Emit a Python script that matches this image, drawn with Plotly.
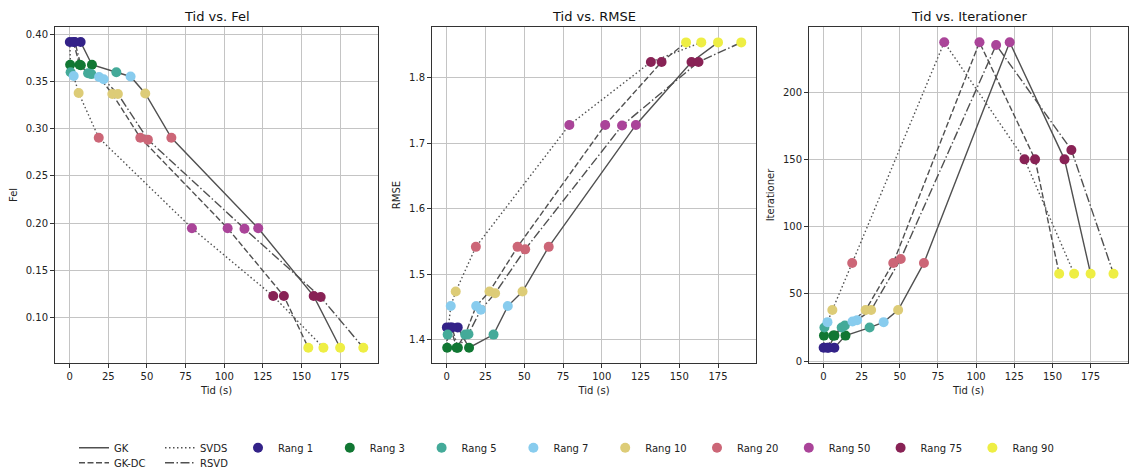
import plotly.graph_objects as go

# ---------------- data ----------------
ranks = [1, 3, 5, 7, 10, 20, 50, 75, 90]
rank_labels = ["Rang 1", "Rang 3", "Rang 5", "Rang 7", "Rang 10", "Rang 20", "Rang 50", "Rang 75", "Rang 90"]
rank_colors = ["#332288", "#117733", "#44AA99", "#88CCEE", "#DDCC77",
               "#CC6677", "#AA4499", "#882255", "#EEEE44"]

methods = ["GK", "GK-DC", "SVDS", "RSVD"]

time_gk = [7.1, 14.4, 30.2, 39.4, 48.9, 65.8, 122.0, 157.9, 175.0]
time_gkdc = [2.4, 6.4, 11.9, 19.0, 27.6, 45.7, 102.2, 138.6, 154.4]
time_svds = [0.1, 0.3, 0.6, 2.6, 5.8, 18.8, 79.1, 131.7, 164.2]
time_rsvd = [3.4, 7.2, 14.0, 22.0, 31.2, 50.6, 113.1, 162.4, 190.0]

fel_gk = [0.392, 0.368, 0.360, 0.3555, 0.3375, 0.2905, 0.1945, 0.1225, 0.0677]
fel_gkdc = [0.392, 0.368, 0.359, 0.355, 0.337, 0.2905, 0.1945, 0.1225, 0.0677]
fel_svds = [0.392, 0.368, 0.360, 0.356, 0.338, 0.2905, 0.1945, 0.1225, 0.0677]
fel_rsvd = [0.392, 0.3675, 0.358, 0.3525, 0.337, 0.2885, 0.194, 0.1215, 0.0677]

rmse_gk = [1.419, 1.388, 1.408, 1.4515, 1.4737, 1.5418, 1.7277, 1.8237, 1.8535]
rmse_gkdc = [1.419, 1.388, 1.408, 1.4515, 1.4737, 1.5418, 1.7277, 1.8237, 1.8535]
rmse_svds = [1.419, 1.388, 1.408, 1.4515, 1.4737, 1.5418, 1.7277, 1.8237, 1.8535]
rmse_rsvd = [1.419, 1.388, 1.4087, 1.446, 1.471, 1.538, 1.7267, 1.8237, 1.8535]

iter_gk = [10, 19, 25, 29, 38, 73, 237, 150, 65]
iter_gkdc = [10, 19, 25, 29.5, 38, 73, 237, 150, 65]
iter_svds = [10, 19, 25, 29, 38, 73, 237, 150, 65]
iter_rsvd = [10, 19, 26.5, 30.5, 38, 76, 235, 157, 65]

titles = ["Tid vs. Fel", "Tid vs. RMSE", "Tid vs. Iterationer"]
y_titles = ["Fel", "RMSE", "Iterationer"]
x_title = "Tid (s)"
x_ticks = [0, 25, 50, 75, 100, 125, 150, 175]
y_ticks_fel = [0.10, 0.15, 0.20, 0.25, 0.30, 0.35, 0.40]
y_ticks_rmse = [1.4, 1.5, 1.6, 1.7, 1.8]
y_ticks_iter = [0, 50, 100, 150, 200]

# ---------------- styling ----------------
W, H = 1129, 469
FONT = "DejaVu Sans"
LINE_COLOR = "#505050"
dash_styles = {"GK": "solid", "GK-DC": "6px,2.5px", "SVDS": "1.5px,2.5px", "RSVD": "9px,2.5px,1.5px,2.5px"}
legend_of = {"GK": "legend", "SVDS": "legend", "GK-DC": "legend2", "RSVD": "legend2"}

times = {"GK": time_gk, "GK-DC": time_gkdc, "SVDS": time_svds, "RSVD": time_rsvd}
metrics = [
    {"GK": fel_gk, "GK-DC": fel_gkdc, "SVDS": fel_svds, "RSVD": fel_rsvd},
    {"GK": rmse_gk, "GK-DC": rmse_gkdc, "SVDS": rmse_svds, "RSVD": rmse_rsvd},
    {"GK": iter_gk, "GK-DC": iter_gkdc, "SVDS": iter_svds, "RSVD": iter_rsvd},
]

x_domains = [(55, 378), (432, 756), (809, 1128)]
M_TOP, M_BOT = 26.7, H - 363.3
PLOT_H = H - M_TOP - M_BOT

fig = go.Figure()

for p in range(3):
    xa = "x" if p == 0 else f"x{p+1}"
    ya = "y" if p == 0 else f"y{p+1}"
    for m in ["GK", "GK-DC", "SVDS", "RSVD"]:
        fig.add_trace(go.Scatter(
            x=times[m], y=metrics[p][m], mode="lines", name=m,
            line=dict(color=LINE_COLOR, width=1.4, dash=dash_styles[m]),
            xaxis=xa, yaxis=ya, showlegend=(p == 0), legend=legend_of[m],
            hoverinfo="skip"))
    for i, lab in enumerate(rank_labels):
        xs = [times[m][i] for m in methods]
        ys = [metrics[p][m][i] for m in methods]
        fig.add_trace(go.Scatter(
            x=xs, y=ys, mode="markers", name=lab,
            marker=dict(color=rank_colors[i], size=10, line=dict(width=0)),
            xaxis=xa, yaxis=ya, showlegend=(p == 0), legend="legend3",
            legendgroup=lab))

axis_common = dict(
    showline=True, mirror=True, linecolor="#333333", linewidth=1,
    ticks="outside", ticklen=4, tickcolor="#333333", tickwidth=1,
    showgrid=True, gridcolor="#c4c4c4", gridwidth=1, zeroline=False,
    tickfont=dict(family=FONT, size=10, color="#222222"),
)

y_ranges = [(0.0515, 0.408), (1.3647, 1.877), (-1.35, 248.35)]
y_tickvals = [y_ticks_fel, y_ticks_rmse, y_ticks_iter]
y_fmt = [".2f", ".1f", "d"]

layout = dict(
    width=W, height=H, margin=dict(l=0, r=0, t=M_TOP, b=M_BOT, autoexpand=False),
    paper_bgcolor="white", plot_bgcolor="white",
    font=dict(family=FONT, size=10, color="#222222"),
    showlegend=True,
)
for p in range(3):
    sx = "" if p == 0 else str(p + 1)
    x0, x1 = x_domains[p]
    layout[f"xaxis{sx}"] = dict(
        axis_common, domain=[x0 / W, x1 / W], anchor=f"y{sx}",
        range=[-9.5, 199.5], tickvals=x_ticks, ticklabelstandoff=0,
        title=dict(text=x_title, font=dict(family=FONT, size=10, color="#222222"), standoff=5))
    layout[f"yaxis{sx}"] = dict(
        axis_common, domain=[0, 1], anchor=f"x{sx}",
        range=list(y_ranges[p]), tickvals=y_tickvals[p], tickformat=y_fmt[p],
        title=dict(text=y_titles[p], font=dict(family=FONT, size=10, color="#222222"), standoff=6))

fig.update_layout(**layout)

annotations = []
for p in range(3):
    x0, x1 = x_domains[p]
    annotations.append(dict(
        text=titles[p], x=(x0 + x1) / 2 / W, y=1 + (M_TOP - 16) / PLOT_H,
        xref="paper", yref="paper",
        xanchor="center", yanchor="middle", showarrow=False,
        font=dict(family=FONT, size=13, color="#111111")))
fig.update_layout(annotations=annotations)

leg_common = dict(orientation="h", xref="container", yref="container",
                  xanchor="left", yanchor="middle", bgcolor="rgba(0,0,0,0)",
                  font=dict(family=FONT, size=10, color="#222222"),
                  traceorder="normal")
fig.update_layout(
    legend=dict(leg_common, x=74 / W, y=1 - 447.7 / H, entrywidth=41),
    legend2=dict(leg_common, x=74 / W, y=1 - 462.7 / H, entrywidth=41),
    legend3=dict(leg_common, x=238 / W, y=1 - 447.7 / H, entrywidth=46.8),
)

fig.write_html("out.html")
